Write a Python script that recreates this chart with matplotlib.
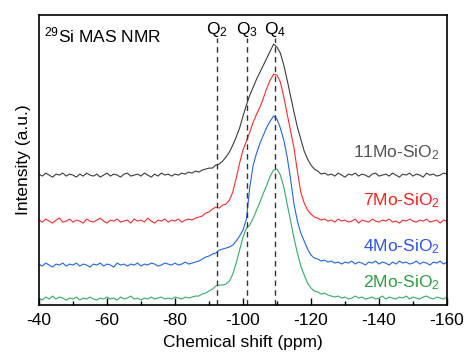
import numpy as np
import matplotlib
matplotlib.use('Agg')
import matplotlib.pyplot as plt
from matplotlib.ticker import MultipleLocator

plt.rcParams['font.family'] = ['Liberation Sans', 'DejaVu Sans']
plt.rcParams['mathtext.fontset'] = 'custom'
plt.rcParams['mathtext.rm'] = 'Liberation Sans'
plt.rcParams['mathtext.it'] = 'Liberation Sans:italic'
plt.rcParams['axes.unicode_minus'] = False

# chemical shift grid, ppm (-40 ... -160, 1 ppm step)
ppm = np.arange(-40, -161, -1)

# intensities (arbitrary units, stacked offsets included)
mo11 = [131, 129, 132, 130, 128, 131, 130, 132, 129, 131,
        130, 128, 131, 129, 132, 130, 129, 131, 128, 130,
        132, 129, 131, 130, 128, 131, 132, 129, 130, 131,
        129, 132, 130, 128, 131, 129, 132, 130, 131, 129,
        131, 130, 132, 131, 133, 132, 134, 133, 135, 136,
        137, 137, 140, 141, 144, 148, 153, 160, 168, 177,
        189, 200, 210, 218, 226, 233, 240, 247, 254, 261,
        258, 252, 240, 225, 209, 193, 178, 166, 154, 146,
        140, 136, 134, 131, 132, 130, 131, 129, 132, 130,
        128, 131, 130, 132, 129, 131, 130, 128, 131, 132,
        129, 130, 131, 129, 132, 130, 128, 131, 130, 132,
        129, 131, 130, 128, 132, 130, 131, 129, 130, 132, 131]

mo7 = [85, 83, 86, 84, 82, 85, 87, 83, 84, 86,
       83, 85, 84, 82, 86, 84, 83, 85, 87, 84,
       82, 85, 84, 86, 83, 84, 85, 82, 86, 84,
       85, 83, 87, 84, 82, 85, 84, 86, 83, 85,
       84, 86, 83, 85, 86, 85, 87, 88, 89, 92,
       93, 96, 98, 97, 100, 101, 105, 113, 127, 142,
       155, 164, 173, 183, 191, 198, 207, 217, 225, 231,
       230, 223, 208, 191, 174, 157, 134, 113, 102, 95,
       91, 88, 87, 85, 86, 84, 85, 83, 86, 84,
       85, 83, 84, 86, 82, 85, 84, 83, 86, 84,
       83, 85, 84, 86, 83, 84, 82, 85, 84, 86,
       84, 83, 85, 84, 86, 83, 84, 85, 82, 85, 84]

mo4 = [41, 39, 42, 40, 38, 41, 40, 42, 39, 41,
       40, 42, 39, 41, 40, 38, 41, 40, 42, 39,
       41, 40, 38, 42, 40, 41, 39, 41, 40, 42,
       39, 41, 40, 42, 41, 39, 40, 42, 41, 40,
       42, 40, 41, 43, 41, 42, 43, 44, 46, 48,
       49, 51, 52, 55, 56, 57, 58, 60, 64, 69,
       75, 86, 118, 140, 152, 162, 170, 178, 184, 189,
       186, 177, 165, 148, 126, 101, 84, 72, 64, 56,
       50, 47, 46, 44, 45, 43, 44, 42, 43, 41,
       43, 42, 44, 41, 43, 42, 40, 43, 42, 44,
       41, 43, 42, 40, 43, 41, 44, 42, 43, 41,
       42, 44, 41, 43, 42, 40, 43, 42, 44, 41, 43]

mo2 = [7, 5, 8, 6, 9, 6, 8, 7, 5, 7,
       6, 8, 5, 7, 6, 8, 6, 5, 7, 6,
       8, 6, 7, 5, 8, 6, 7, 9, 6, 7,
       5, 7, 6, 8, 6, 7, 8, 6, 7, 6,
       8, 7, 6, 8, 7, 8, 9, 9, 11, 12,
       14, 16, 19, 20, 20, 21, 24, 31, 42, 55,
       68, 77, 80, 87, 95, 103, 112, 120, 129, 135,
       136, 130, 118, 101, 84, 67, 52, 39, 30, 22,
       17, 14, 13, 11, 12, 10, 9, 8, 9, 7,
       8, 6, 7, 9, 7, 8, 6, 7, 8, 6,
       7, 9, 6, 8, 7, 6, 8, 7, 9, 6,
       8, 7, 6, 8, 9, 7, 6, 8, 7, 6, 8]

names = ['11Mo-SiO$_2$', '7Mo-SiO$_2$', '4Mo-SiO$_2$', '2Mo-SiO$_2$']
label_y = [152, 104, 58, 22]
line_colors = ['#3c3c3c', '#ff2b2b', '#1f66e5', '#35aa68']
text_colors = ['#555555', '#ff2020', '#2a55ee', '#2e9e40']

q_pos = [-92.4, -101.2, -109.5]
q_names = ['Q$_2$', 'Q$_3$', 'Q$_4$']

fig = plt.figure(figsize=(4.66, 3.61), dpi=100)
ax = fig.add_axes([0.0837, 0.155, 0.8755, 0.803])

for ys, c in zip([mo11, mo7, mo4, mo2], line_colors):
    ax.plot(ppm, ys, color=c, lw=0.8)

for name, y, c in zip(names, label_y, text_colors):
    ax.text(-157.8, y, name, color=c, fontsize=12.5, ha='right', va='center')

ax.vlines(q_pos, 0, 267, colors='#333333', linestyles=(0, (4, 3)), lw=1.0)
for x, q in zip(q_pos, q_names):
    ax.text(x, 276, q, fontsize=12.5, ha='center', va='center')

ax.text(-41.5, 270, '$^{29}$Si MAS NMR', fontsize=12.5, ha='left', va='center')

ax.set_xlim(-40, -160)
ax.set_ylim(0, 290)
ax.xaxis.set_major_locator(MultipleLocator(20))
ax.xaxis.set_minor_locator(MultipleLocator(10))
ax.tick_params(axis='x', which='major', direction='in', length=5, width=1, labelsize=12.5, pad=6)
ax.tick_params(axis='x', which='minor', direction='in', length=3, width=1)
ax.set_yticks([])
for s in ax.spines.values():
    s.set_linewidth(1.2)
ax.set_xlabel('Chemical shift (ppm)', fontsize=12.5, labelpad=5)
ax.set_ylabel('Intensity (a.u.)', fontsize=12.5, labelpad=6)

fig.savefig('out.png', dpi=100)
